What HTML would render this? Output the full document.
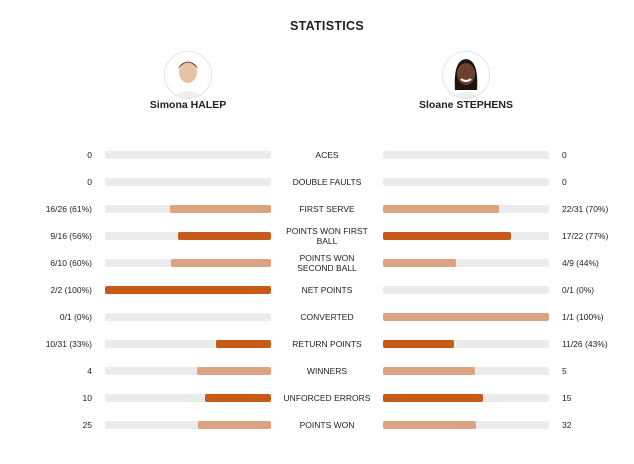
<!DOCTYPE html>
<html><head><meta charset="utf-8"><style>
body{margin:0;width:634px;height:464px;background:#fff;font-family:"Liberation Sans",sans-serif;color:#222;position:relative;overflow:hidden}
.abs{position:absolute}
.title{left:0;width:654px;text-align:center;top:19px;font-weight:bold;font-size:12.5px;letter-spacing:.3px}
.av{width:46px;height:46px;border-radius:50%;border:1px solid #e4e4e4;top:51px;overflow:hidden;background:#fff}
.name{top:99px;font-weight:bold;font-size:10.5px;width:160px;text-align:center}
.lv{width:90px;text-align:right;left:2px;font-size:8.5px}
.rv{left:562px;font-size:8.5px}
.lab{left:272px;width:110px;text-align:center;font-size:8.5px;line-height:10px;white-space:nowrap}
.track{height:8px;background:#ebebeb;border-radius:2px;width:166px}
.fill{position:absolute;top:0;height:8px;border-radius:2px}
</style></head><body>
<div class="abs title">STATISTICS</div>
<div class="abs av" style="left:164px"><svg width="46" height="46"><ellipse cx="23" cy="20" rx="9" ry="11" fill="#e6c2a8"/><path d="M13 17 Q23 4 33 17 Q30 10 23 10 Q16 10 13 17Z" fill="#3a2a22"/><path d="M8 46 Q23 32 38 46Z" fill="#eee"/></svg></div>
<div class="abs av" style="left:442px"><svg width="46" height="46"><path d="M12 38 Q10 8 23 7 Q36 8 34 38Z" fill="#1d1410"/><ellipse cx="23" cy="22" rx="9" ry="11" fill="#6b4230"/><path d="M18 27 Q23 31 28 27" stroke="#fff" stroke-width="2" fill="none"/><path d="M8 46 Q23 34 38 46Z" fill="#eee"/></svg></div>
<div class="abs name" style="left:108px">Simona HALEP</div>
<div class="abs name" style="left:386px">Sloane STEPHENS</div>
<div id="rows"></div>
<script>
const labels=["ACES","DOUBLE FAULTS","FIRST SERVE","POINTS WON FIRST\nBALL","POINTS WON\nSECOND BALL","NET POINTS","CONVERTED","RETURN POINTS","WINNERS","UNFORCED ERRORS","POINTS WON"];
const leftText=["0","0","16/26 (61%)","9/16 (56%)","6/10 (60%)","2/2 (100%)","0/1 (0%)","10/31 (33%)","4","10","25"];
const rightText=["0","0","22/31 (70%)","17/22 (77%)","4/9 (44%)","0/1 (0%)","1/1 (100%)","11/26 (43%)","5","15","32"];
const leftFrac=[0,0,0.61,0.56,0.60,1.00,0,0.33,4/9,10/25,25/57];
const rightFrac=[0,0,0.70,0.77,0.44,0,1.00,0.43,5/9,15/25,32/57];
const rows=document.getElementById('rows');
labels.forEach((l,i)=>{
  const cy=155+i*27;
  const col=i%2===1?'#c85a19':'#dba382';
  const lv=document.createElement('div');lv.className='abs lv';lv.style.top=(cy-5)+'px';lv.textContent=leftText[i];
  
  
  rows.appendChild(lv);
  const rv=document.createElement('div');rv.className='abs rv';rv.style.top=(cy-5)+'px';rv.textContent=rightText[i];
  
  
  rows.appendChild(rv);
  const lab=document.createElement('div');lab.className='abs lab';
  const parts=l.split('\n');
  parts.forEach((p,k)=>{if(k)lab.appendChild(document.createElement('br'));lab.appendChild(document.createTextNode(p));});
  lab.style.top=(cy-(parts.length>1?10:5))+'px';
  
  
  rows.appendChild(lab);
  [[105,leftFrac[i],true],[383,rightFrac[i],false]].forEach(([x,f,isL])=>{
    const t=document.createElement('div');t.className='abs track';t.style.left=x+'px';t.style.top=(cy-4)+'px';
    
    
    if(f>0){const fl=document.createElement('div');fl.className='fill';fl.style.width=(f*166)+'px';fl.style.background=col;
      if(isL)fl.style.right='0';else fl.style.left='0';
      
      
      t.appendChild(fl);}
    rows.appendChild(t);
  });
});
</script>
</body></html>
